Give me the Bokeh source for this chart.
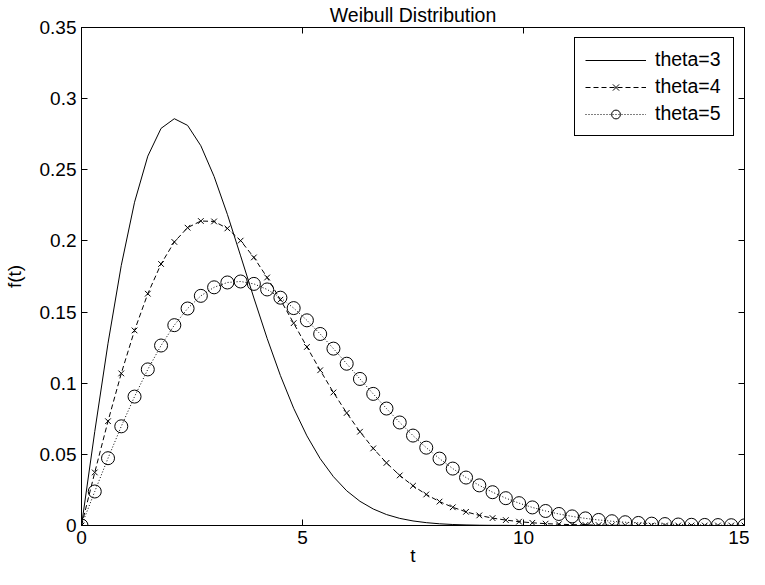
from bokeh.plotting import figure
from bokeh.models import (Range1d, LinearAxis, FixedTicker, CustomJSTickFormatter,
                          Legend, LegendItem)
from bokeh.embed import file_html
from bokeh.resources import INLINE

# ---------------- data ----------------
t = [0.0, 0.3, 0.6, 0.9, 1.2, 1.5, 1.8, 2.1, 2.4, 2.7, 3.0, 3.3, 3.6, 3.9, 4.2,
     4.5, 4.8, 5.1, 5.4, 5.7, 6.0, 6.3, 6.6, 6.9, 7.2, 7.5, 7.8, 8.1, 8.4, 8.7,
     9.0, 9.3, 9.6, 9.9, 10.2, 10.5, 10.8, 11.1, 11.4, 11.7, 12.0, 12.3, 12.6,
     12.9, 13.2, 13.5, 13.8, 14.1, 14.4, 14.7, 15.0]

f_theta3 = [0.0, 0.0660, 0.1281, 0.1828, 0.2272, 0.2596, 0.2791, 0.2859, 0.2812,
            0.2669, 0.2453, 0.2187, 0.1895, 0.1599, 0.1315, 0.1054, 0.0824,
            0.0630, 0.0470, 0.0343, 0.0244, 0.0170, 0.0116, 0.0077, 0.0050,
            0.0032, 0.0020, 0.0012, 0.0007, 0.0004, 0.0002, 0.0001, 0.0001,
            0.0, 0.0, 0.0, 0.0, 0.0, 0.0, 0.0, 0.0, 0.0, 0.0, 0.0, 0.0, 0.0,
            0.0, 0.0, 0.0, 0.0, 0.0]

f_theta4 = [0.0, 0.0373, 0.0733, 0.1069, 0.1371, 0.1629, 0.1838, 0.1993, 0.2093,
            0.2140, 0.2137, 0.2088, 0.2002, 0.1884, 0.1743, 0.1587, 0.1422,
            0.1255, 0.1091, 0.0935, 0.0791, 0.0659, 0.0542, 0.0440, 0.0352,
            0.0279, 0.0218, 0.0168, 0.0128, 0.0096, 0.0071, 0.0052, 0.0038,
            0.0027, 0.0019, 0.0013, 0.0009, 0.0006, 0.0004, 0.0003, 0.0002,
            0.0001, 0.0001, 0.0, 0.0, 0.0, 0.0, 0.0, 0.0, 0.0, 0.0]

f_theta5 = [0.0, 0.0239, 0.0473, 0.0697, 0.0906, 0.1097, 0.1265, 0.1408, 0.1525,
            0.1614, 0.1674, 0.1708, 0.1715, 0.1698, 0.1659, 0.1601, 0.1528,
            0.1442, 0.1346, 0.1243, 0.1137, 0.1030, 0.0925, 0.0822, 0.0724,
            0.0632, 0.0547, 0.0470, 0.0400, 0.0337, 0.0282, 0.0234, 0.0192,
            0.0157, 0.0127, 0.0102, 0.0081, 0.0064, 0.0050, 0.0039, 0.0030,
            0.0023, 0.0018, 0.0013, 0.0010, 0.0007, 0.0005, 0.0004, 0.0003,
            0.0002, 0.0001]

x_ticks = [0, 5, 10, 15]
y_ticks = [0, 0.05, 0.1, 0.15, 0.2, 0.25, 0.3, 0.35]
series_labels = ["theta=3", "theta=4", "theta=5"]
title_text = "Weibull Distribution"
x_label = "t"
y_label = "f(t)"

# ---------------- styling ----------------
FONT = "Liberation Sans"
FS = "19px"

p = figure(width=749, height=569, output_backend="svg", toolbar_location=None,
           x_range=Range1d(0, 15), y_range=Range1d(0, 0.35),
           min_border_left=76, min_border_right=5,
           min_border_top=26, min_border_bottom=44)

p.title.text = title_text
p.title.align = "center"
p.title.text_font = FONT
p.title.text_font_size = "19.5px"
p.title.text_font_style = "normal"
p.title.text_color = "black"
p.title.standoff = 3

p.grid.visible = False
p.outline_line_color = "black"
p.outline_line_alpha = 1
p.background_fill_color = "white"
p.border_fill_color = "white"

empty_fmt = CustomJSTickFormatter(code="return '';")
num_fmt = CustomJSTickFormatter(code="return String(parseFloat(tick.toFixed(4)));")


def style_axis(ax, ticks):
    ax.ticker = FixedTicker(ticks=ticks)
    ax.major_tick_in = 6
    ax.major_tick_out = 0
    ax.minor_tick_in = 0
    ax.minor_tick_out = 0
    ax.axis_line_color = "black"
    ax.major_tick_line_color = "black"
    ax.major_label_text_font = FONT
    ax.major_label_text_font_size = FS
    ax.major_label_text_color = "black"
    ax.axis_label_text_font = FONT
    ax.axis_label_text_font_size = FS
    ax.axis_label_text_font_style = "normal"
    ax.axis_label_text_color = "black"


xa = p.xaxis[0]
style_axis(xa, x_ticks)
xa.formatter = num_fmt
xa.axis_label = x_label
xa.major_label_standoff = 5
xa.axis_label_standoff = -2

ya = p.yaxis[0]
style_axis(ya, y_ticks)
ya.formatter = num_fmt
ya.axis_label = y_label
ya.major_label_standoff = 5
ya.axis_label_standoff = 12

top_ax = LinearAxis(formatter=empty_fmt)
style_axis(top_ax, x_ticks)
top_ax.major_label_standoff = 0
top_ax.major_label_text_font_size = "0px"
p.add_layout(top_ax, "above")

right_ax = LinearAxis(formatter=empty_fmt)
style_axis(right_ax, y_ticks)
right_ax.major_label_standoff = 0
right_ax.major_label_text_font_size = "0px"
p.add_layout(right_ax, "right")

# ---------------- glyphs ----------------
r3 = p.line(t, f_theta3, line_color="black", line_width=1)

r4l = p.line(t, f_theta4, line_color="black", line_width=1, line_dash="5 3")
r4m = p.scatter(t, f_theta4, marker="x", size=8, line_color="black", line_width=1)

r5l = p.line(t, f_theta5, line_color="black", line_width=1, line_dash="1 2")
r5m = p.scatter(t, f_theta5, marker="circle", size=13, fill_color=None,
                line_color="black", line_width=1)

legend = Legend(items=[
    LegendItem(label=series_labels[0], renderers=[r3]),
    LegendItem(label=series_labels[1], renderers=[r4l, r4m]),
    LegendItem(label=series_labels[2], renderers=[r5l, r5m]),
], location="top_right")
legend.border_line_color = "black"
legend.border_line_width = 1
legend.border_line_alpha = 1
legend.background_fill_color = "white"
legend.background_fill_alpha = 1
legend.label_text_font = FONT
legend.label_text_font_size = "19.5px"
legend.label_text_color = "black"
legend.glyph_width = 61
legend.glyph_height = 22
legend.label_height = 22
legend.label_width = 68
legend.label_standoff = 9
legend.padding = 10
legend.spacing = 4
legend.margin = 10
p.add_layout(legend)

open("out.html", "w").write(file_html(p, INLINE))
